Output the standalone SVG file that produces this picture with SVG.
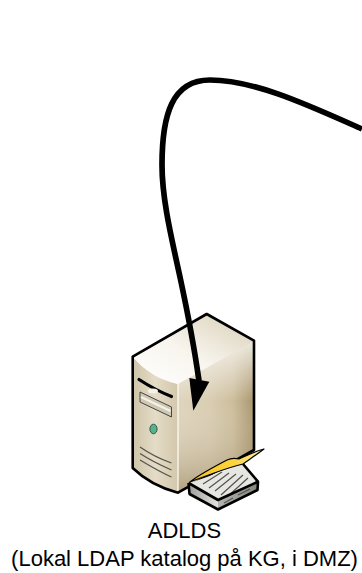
<svg xmlns="http://www.w3.org/2000/svg" width="362" height="573" viewBox="0 0 362 573">
<style>
.o{stroke:#000;stroke-width:2.6;stroke-linejoin:round;fill:none}
.g{stroke:#55534c;stroke-width:1.2;fill:none}
text{font-family:"Liberation Sans",Arial,sans-serif;font-size:22px;fill:#000;text-anchor:middle}
</style>
<defs>
<linearGradient id="side" x1="0" x2="1" y1="0" y2="0"><stop offset="0" stop-color="#dcd0b6"/><stop offset=".4" stop-color="#d6c9ac"/><stop offset=".72" stop-color="#c9b894"/><stop offset="1" stop-color="#a08c60"/></linearGradient>
<linearGradient id="sideV" x1="0" x2="0" y1="0" y2="1"><stop offset="0" stop-color="#fff" stop-opacity=".8"/><stop offset=".4" stop-color="#fff" stop-opacity=".08"/><stop offset="1" stop-color="#8f7a52" stop-opacity=".55"/></linearGradient>
<linearGradient id="front" x1="0" x2="1" y1="0" y2="0"><stop offset="0" stop-color="#cfc4a8"/><stop offset=".5" stop-color="#e4dcc7"/><stop offset="1" stop-color="#d3c7ab"/></linearGradient>
<linearGradient id="top" x1="0" x2="1" y1="1" y2="0"><stop offset="0" stop-color="#fff"/><stop offset=".45" stop-color="#f8f5ee"/><stop offset="1" stop-color="#d8cdb4"/></linearGradient>
<linearGradient id="pg" x1="0" x2="1" y1="0" y2="0"><stop offset="0" stop-color="#f2c21e"/><stop offset=".6" stop-color="#fbd540"/><stop offset="1" stop-color="#fff0a8"/></linearGradient>
<linearGradient id="bk" x1="0" x2="1" y1="0" y2="0"><stop offset="0" stop-color="#9d9d99"/><stop offset="1" stop-color="#e2e2de"/></linearGradient>
<linearGradient id="bk2" x1="0" x2="1" y1="0" y2="0"><stop offset="0" stop-color="#b4b4b0"/><stop offset="1" stop-color="#858580"/></linearGradient>
</defs>
<g id="server">
<path d="M178 384V492.700L254 450V340.700Z" fill="url(#side)"/>
<path d="M178 384V492.700L254 450V340.700Z" fill="url(#sideV)"/>
<path d="M132.700 356.700C145 371 160 380 178 384V492.700C160 488 145 480 132.700 468Z" fill="url(#front)"/>
<path d="M132.700 356.700L206.700 314L254 340.700L178 384C160 380 145 371 132.700 356.700Z" fill="url(#top)"/>
<path d="M178 384V492" stroke="#fff" stroke-width="1.200" fill="none"/>
<path class="o" d="M132.700 356.700L206.700 314L254 340.700V450L178 492.700C160 488 145 480 132.700 468Z"/>
<path d="M139 379.500C149 386 160 392 171.500 396.500" stroke="#000" stroke-width="3.200" stroke-linecap="round" fill="none"/>
<ellipse cx="153" cy="391" rx="5" ry="2.500" fill="#f4f1e8"/>
<path d="M140 392L171.500 407V417L140 402Z" fill="#cfc8b4" stroke="#45443e" stroke-width="1"/>
<path d="M141 397L170.500 411" stroke="#f5f2ea" stroke-width="2"/>
<ellipse cx="153.500" cy="429" rx="3.600" ry="4.800" fill="#58b08c" stroke="#2f5f4c" stroke-width="1"/>
<path class="g" d="M140 447C150 454 160 459 171.500 463M140 453.500C150 460 160 465 171.500 470M140 460C150 466 160 472 171.500 477"/>
</g>
<g id="book">
<path d="M188.500 483L218 500V509.500L189.500 494Z" fill="url(#bk)"/>
<path d="M218 500L258 481.700L257.500 490L218 509.500Z" fill="url(#bk2)"/>
<path d="M190 483L243 464L258 481.700L218 500Z" fill="#e6e6e2"/>
<path d="M190 482C200 474 214 467 227 460C231 458 235 458 239 459C248 455 256 451 264 449C256 455 250 459 243 464C226 468 206 476 190 482Z" fill="url(#pg)" stroke="#000" stroke-width="1.200" stroke-linejoin="round"/>
<path class="g" stroke-width="1.500" d="M203 484L222 472M209 488L229 473M215 491L236 474M221 495L243 475M227 497L248 478"/>
<path class="g" d="M224 503L233 498M238 495L250 489"/>
<path class="o" d="M188.500 483L189.500 494L218 509.500L257.500 490L258 481.700L243 464M188.500 483L218 500L258 481.700"/>
</g>
<g id="connectors">
<path d="M362 129C310 106 255 80 210 80C172 80 162 115 162 165C162 200 172 240 180 277C186 305 194 345 199 381" stroke="#000" stroke-width="5.700" fill="none"/>
<path d="M189.300 378L209.300 381.700L193.300 410.700Z" fill="#000"/>
</g>
<g id="label">
<text x="184.500" y="538">ADLDS</text>
<text x="184.500" y="566">(Lokal LDAP katalog på KG, i DMZ)</text>
</g>
</svg>
